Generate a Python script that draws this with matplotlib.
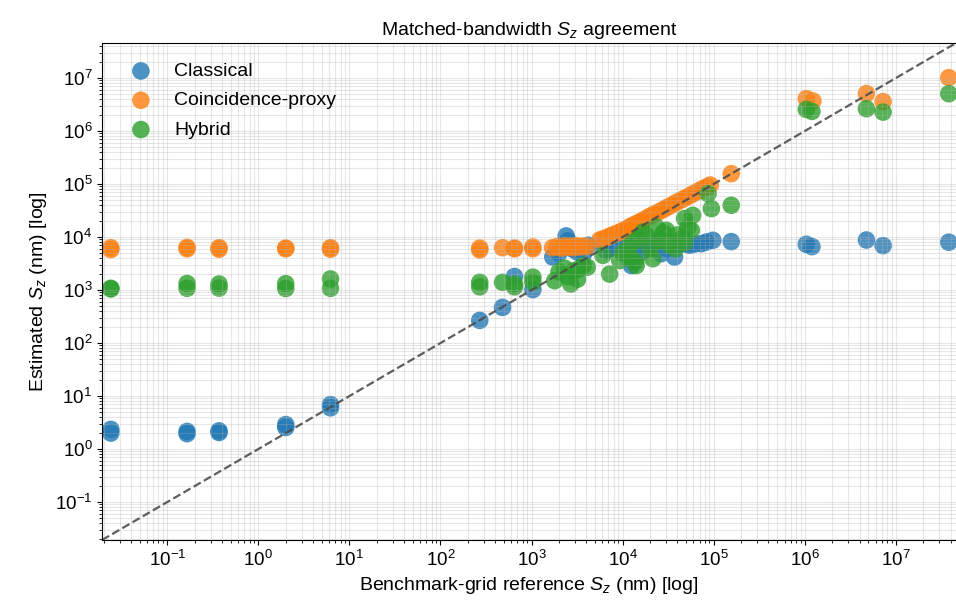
import matplotlib
matplotlib.use("Agg")
import matplotlib.pyplot as plt
import numpy as np

plt.rcParams["font.family"] = ["Liberation Sans", "DejaVu Sans"]
plt.rcParams["mathtext.fontset"] = "custom"
plt.rcParams["mathtext.rm"] = "Liberation Sans"
plt.rcParams["mathtext.it"] = "Liberation Sans:italic"

# --- reference vs. estimated S_z (nm), per estimator ---
classical_ref = [0.024, 0.024, 0.165, 0.165, 0.37, 0.37, 2.0, 2.0, 6.2, 6.2,
                 270, 480, 650, 1035, 1710, 2000, 2400, 2500, 2800, 3200, 3660, 4200,
                 6000, 6600, 7500, 9000, 10500, 12500, 14000, 16000, 19000, 22000,
                 26600, 30000, 37200, 42000, 50000, 54400, 62000, 73300, 83000, 98000,
                 156000, 1.04e6, 1.2e6, 4.76e6, 7.25e6, 3.82e7]
classical_est = [2.35, 2.0, 2.15, 1.95, 2.2, 2.05, 2.9, 2.55, 6.9, 6.0,
                 268, 470, 1800, 1020, 4200, 5000, 10500, 8500, 6000, 5200, 4500, 7000,
                 7500, 5600, 6200, 7000, 8000, 2900, 6000, 5200, 6500, 7600,
                 4850, 6200, 4200, 7200, 7500, 6980, 7400, 7500, 8060, 8700,
                 8200, 7300, 6600, 8800, 6900, 8000]

proxy_ref = [0.024, 0.024, 0.165, 0.165, 0.37, 0.37, 2.0, 2.0, 6.2, 6.2,
             270, 270, 480, 650, 650, 1035, 1035,
             1700, 1900, 2100, 2300, 2500, 2700, 2900, 3100, 3400, 3700, 4000,
             5600, 6100, 6700, 7300, 8000, 8900, 9800, 10800, 11900, 13000,
             14500, 16000, 17800, 19800, 22000, 25000, 28000, 31000, 35000, 39000,
             44000, 49000, 55000, 61000, 68000, 76000, 85000, 92000, 156000,
             1.04e6, 1.23e6, 4.76e6, 7.25e6, 3.82e7]
proxy_est = [6300, 5800, 6400, 6000, 6300, 5900, 6200, 6000, 6300, 5900,
             6200, 5700, 6300, 6200, 6000, 6500, 6000,
             6300, 6600, 6200, 6800, 6400, 6700, 6300, 6900, 6500, 6800, 6600,
             8800, 9300, 9800, 10500, 11200, 12000, 13000, 14000, 15500, 16800,
             18300, 20000, 22000, 24500, 27000, 30000, 33000, 36500, 40500, 45000,
             50000, 55000, 61000, 67000, 74000, 82000, 90000, 96000, 157000,
             4.1e6, 3.7e6, 5.1e6, 3.6e6, 1.02e7]

hybrid_ref = [0.024, 0.024, 0.165, 0.165, 0.37, 0.37, 2.0, 2.0, 6.2, 6.2,
              270, 270, 480, 650, 650, 1035, 1035,
              1800, 2000, 2300, 2500, 2700, 2900, 3300, 3700, 3200, 4100,
              6080, 7200, 9300, 10000, 11700, 12000, 13000, 13900, 14100, 15000,
              16700, 18000, 19800, 21500, 23400, 25000, 26000, 28000, 30200, 33000,
              35700, 38000, 40000, 45000, 47900, 48000, 52000, 56900, 58900, 86700,
              94400, 156000, 1.04e6, 1.2e6, 4.76e6, 7.25e6, 3.82e7]
hybrid_est = [1080, 1050, 1330, 1080, 1300, 1090, 1320, 1070, 1620, 1080,
              1400, 1150, 1400, 1300, 1150, 1750, 1400,
              1500, 2200, 2600, 1800, 1300, 2300, 2500, 2900, 1600, 2700,
              4520, 2000, 3600, 5000, 6500, 4200, 8000, 3450, 2900, 9500,
              12400, 11000, 6000, 3900, 15500, 8500, 9000, 12000, 13400, 7000,
              8060, 6000, 11000, 9500, 22400, 7800, 15000, 13400, 25700, 65900,
              34400, 39800, 2.57e6, 2.35e6, 2.64e6, 2.28e6, 5.07e6]

series = [
    ("Classical", classical_ref, classical_est, "#1f77b4"),
    ("Coincidence-proxy", proxy_ref, proxy_est, "#ff7f0e"),
    ("Hybrid", hybrid_ref, hybrid_est, "#2ca02c"),
]

fig = plt.figure(figsize=(9.56, 6.12), dpi=100)
ax = fig.add_axes([0.1067, 0.1176, 0.8933, 0.8121])

for label, xs, ys, color in series:
    ax.scatter(xs, ys, s=160, color=color, alpha=0.8, edgecolors="none", label=label)

# y = x reference line across the shared square range
all_vals = np.concatenate([np.concatenate([xs, ys]) for _, xs, ys, _ in series])
lo, hi = all_vals.min() * 0.8, all_vals.max() * 1.2
ax.plot([lo, hi], [lo, hi], "--", color="0.3", lw=1.6, alpha=0.9)

ax.set_xscale("log")
ax.set_yscale("log")
ax.set_xlim(lo, hi)
ax.set_ylim(lo, hi)
ax.grid(True, which="both", color="#b0b0b0", alpha=0.3, linewidth=0.8)
ax.spines["right"].set_visible(False)
ax.tick_params(labelsize=13.5)

ax.set_xlabel(r"Benchmark-grid reference $S_z$ (nm) [log]", fontsize=14)
ax.set_ylabel(r"Estimated $S_z$ (nm) [log]", fontsize=14)
ax.set_title(r"Matched-bandwidth $S_z$ agreement", fontsize=14)
ax.legend(loc="upper left", frameon=False, fontsize=14, borderaxespad=0.6,
          labelspacing=0.6, handletextpad=0.7)

fig.savefig("out.png", dpi=100)
